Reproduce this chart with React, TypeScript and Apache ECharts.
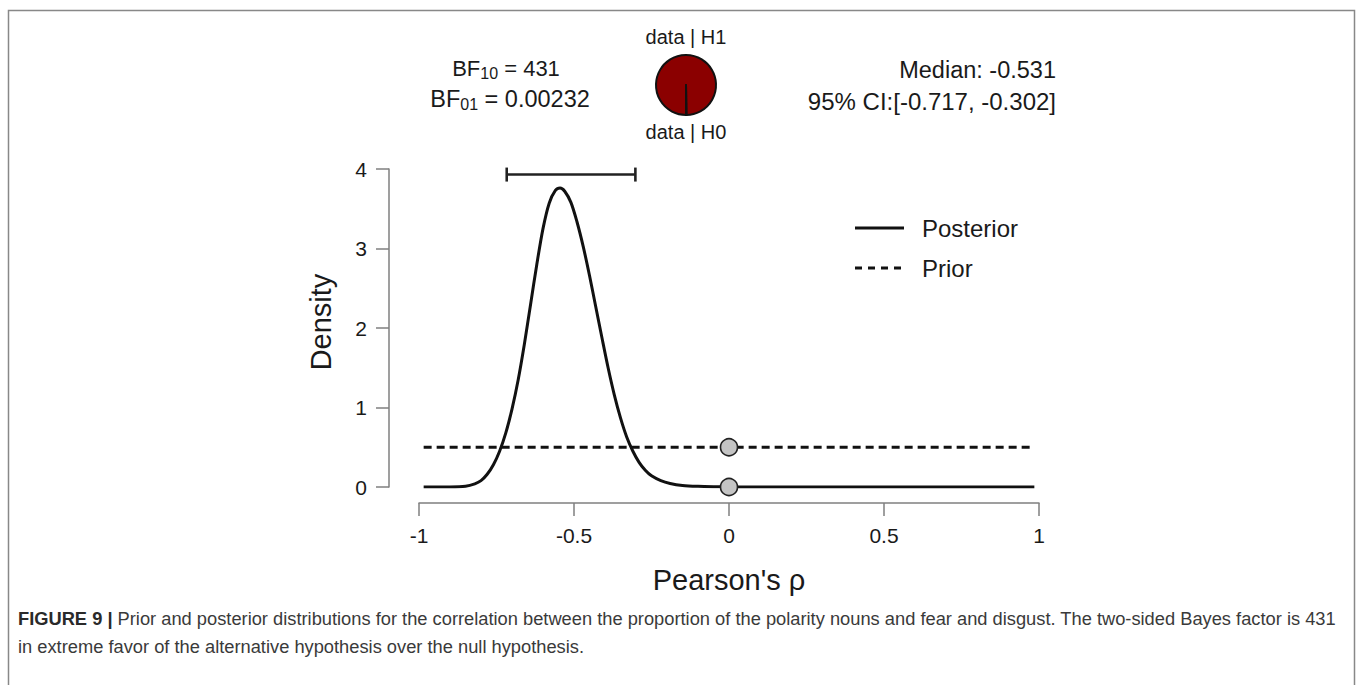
import { useEffect, useRef } from "react";
import * as echarts from "echarts";

// Posterior density
const rho = [
  -0.985, -0.9, -0.85, -0.82, -0.8, -0.78, -0.76, -0.74, -0.72, -0.7, -0.68, -0.66, -0.64, -0.62, -0.6,
  -0.58, -0.56, -0.545, -0.53, -0.51, -0.49, -0.47, -0.45, -0.43, -0.41, -0.39, -0.37, -0.35, -0.33,
  -0.31, -0.29, -0.27, -0.25, -0.22, -0.19, -0.15, -0.1, -0.05, 0, 0.2, 0.985,
];
const posteriorDensity = [
  0, 0.001, 0.01, 0.04, 0.08, 0.16, 0.28, 0.45, 0.68, 0.98, 1.35, 1.8, 2.3, 2.8, 3.25,
  3.57, 3.73, 3.76, 3.72, 3.58, 3.33, 3.02, 2.66, 2.27, 1.88, 1.5, 1.16, 0.87, 0.63,
  0.45, 0.31, 0.21, 0.14, 0.08, 0.045, 0.02, 0.008, 0.003, 0.001, 0, 0,
];
const priorRho = [-0.985, 0.985];
const priorDensity = [0.5, 0.5];

const ciLower = -0.717;
const ciUpper = -0.302;
const ciHeight = 3.93;
const pointsAtZero = [
  [0, 0.5],
  [0, 0],
];
const xTicks = [-1, 1, 0.5];
const yTicks = [0, 4, 1];

const BF10 = 431;
const BF01Text = "0.00232";
const medianText = "Median: -0.531";
const ciText = "95% CI:[-0.717, -0.302]";

const captionLine1 =
  " Prior and posterior distributions for the correlation between the proportion of the polarity nouns and fear and disgust. The two-sided Bayes factor is 431";
const captionLine2 = "in extreme favor of the alternative hypothesis over the null hypothesis.";

const FONT = "'Liberation Sans', Arial, Helvetica, sans-serif";
const TXT = "#1a1a1a";
const AXIS = "#7f7f7f";

export default function App() {
  const ref = useRef<HTMLDivElement>(null);
  useEffect(() => {
    const chart = echarts.init(ref.current!, null, { renderer: "svg" });
    chart.setOption({
      animation: false,
      backgroundColor: "#fff",
      textStyle: { fontFamily: FONT },
      grid: { left: 419, top: 169, width: 620, height: 318, containLabel: false },
      xAxis: {
        type: "value",
        min: xTicks[0],
        max: xTicks[1],
        interval: xTicks[2],
        offset: 16,
        splitLine: { show: false },
        axisLine: { show: true, onZero: false, lineStyle: { color: AXIS, width: 1.5 } },
        axisTick: { show: true, length: 13, lineStyle: { color: AXIS, width: 1.5 } },
        axisLabel: { color: TXT, fontSize: 21, margin: 22, fontFamily: FONT },
      },
      yAxis: {
        type: "value",
        min: yTicks[0],
        max: yTicks[1],
        interval: yTicks[2],
        offset: 30,
        splitLine: { show: false },
        axisLine: { show: true, onZero: false, lineStyle: { color: AXIS, width: 1.5 } },
        axisTick: { show: true, length: 13, lineStyle: { color: AXIS, width: 1.5 } },
        axisLabel: { color: TXT, fontSize: 21, margin: 22, fontFamily: FONT },
      },
      series: [
        {
          type: "line",
          name: "Prior",
          data: priorRho.map((x, i) => [x, priorDensity[i]]),
          showSymbol: false,
          lineStyle: { color: "#111", width: 2.8, type: [8, 5] },
          z: 2,
        },
        {
          type: "line",
          name: "Posterior",
          data: rho.map((x, i) => [x, posteriorDensity[i]]),
          showSymbol: false,
          smooth: 0.3,
          lineStyle: { color: "#111", width: 3 },
          z: 3,
        },
        {
          type: "custom",
          name: "CI",
          data: [[ciLower, ciUpper, ciHeight]],
          encode: { x: [0, 1], y: 2 },
          renderItem: (_params: any, api: any) => {
            const p1 = api.coord([api.value(0), api.value(2)]);
            const p2 = api.coord([api.value(1), api.value(2)]);
            const cap = 7;
            const st = { stroke: "#222", lineWidth: 2.6 };
            return {
              type: "group",
              children: [
                { type: "line", shape: { x1: p1[0], y1: p1[1], x2: p2[0], y2: p2[1] }, style: st },
                { type: "line", shape: { x1: p1[0], y1: p1[1] - cap, x2: p1[0], y2: p1[1] + cap }, style: st },
                { type: "line", shape: { x1: p2[0], y1: p2[1] - cap, x2: p2[0], y2: p2[1] + cap }, style: st },
              ],
            };
          },
          z: 4,
        },
        {
          type: "scatter",
          name: "Points",
          data: pointsAtZero,
          symbolSize: 17,
          itemStyle: { color: "#c4c4c4", borderColor: "#222", borderWidth: 1.6, opacity: 1 },
          z: 5,
        },
        {
          type: "pie",
          name: "BF pie",
          center: [686, 85],
          radius: 30,
          startAngle: -90,
          clockwise: true,
          minAngle: 0,
          label: { show: false },
          labelLine: { show: false },
          silent: true,
          itemStyle: { borderColor: "#111", borderWidth: 2 },
          data: [
            { name: "data | H1", value: BF10, itemStyle: { color: "#8b0000" } },
            { name: "data | H0", value: 1, itemStyle: { color: "#ffffff" } },
          ],
        },
      ],
      graphic: [
        // figure frame
        {
          type: "polyline",
          shape: { points: [[8.5, 685], [8.5, 10.5], [1354.5, 10.5], [1354.5, 685]] },
          style: { stroke: "#888", lineWidth: 1.5, fill: null },
        },
        // axis titles
        {
          type: "text",
          x: 321,
          y: 322,
          rotation: Math.PI / 2,
          style: { text: "Density", fontSize: 29, fontFamily: FONT, fill: TXT, align: "center", verticalAlign: "middle" },
        },
        {
          type: "text",
          x: 729,
          y: 580,
          style: { text: "Pearson's ρ", fontSize: 29, fontFamily: FONT, fill: TXT, align: "center", verticalAlign: "middle" },
        },
        // legend
        { type: "line", shape: { x1: 855, y1: 228, x2: 904, y2: 228 }, style: { stroke: "#111", lineWidth: 3 } },
        {
          type: "line",
          shape: { x1: 855, y1: 268, x2: 904, y2: 268 },
          style: { stroke: "#111", lineWidth: 2.8, lineDash: [7, 6] },
        },
        {
          type: "text",
          x: 922,
          y: 228,
          style: { text: "Posterior", fontSize: 24, fontFamily: FONT, fill: TXT, align: "left", verticalAlign: "middle" },
        },
        {
          type: "text",
          x: 922,
          y: 268,
          style: { text: "Prior", fontSize: 24, fontFamily: FONT, fill: TXT, align: "left", verticalAlign: "middle" },
        },
        // pie labels
        {
          type: "text",
          x: 686,
          y: 37,
          style: { text: "data | H1", fontSize: 20, fontFamily: FONT, fill: TXT, align: "center", verticalAlign: "middle" },
        },
        {
          type: "text",
          x: 686,
          y: 132,
          style: { text: "data | H0", fontSize: 20, fontFamily: FONT, fill: TXT, align: "center", verticalAlign: "middle" },
        },
        // Bayes factors
        {
          type: "text",
          x: 506,
          y: 68,
          style: {
            text: "{m|BF}{s|10}{m| = " + BF10 + "}",
            align: "center",
            verticalAlign: "middle",
            fill: TXT,
            rich: {
              m: { fontSize: 22, fontFamily: FONT, lineHeight: 26, verticalAlign: "middle", fill: TXT },
              s: { fontSize: 16, fontFamily: FONT, lineHeight: 15, verticalAlign: "bottom", fill: TXT },
            },
          },
        },
        {
          type: "text",
          x: 510,
          y: 99,
          style: {
            text: "{m|BF}{s|01}{m| = " + BF01Text + "}",
            align: "center",
            verticalAlign: "middle",
            fill: TXT,
            rich: {
              m: { fontSize: 23.5, fontFamily: FONT, lineHeight: 26, verticalAlign: "middle", fill: TXT },
              s: { fontSize: 16, fontFamily: FONT, lineHeight: 15, verticalAlign: "bottom", fill: TXT },
            },
          },
        },
        // median & CI
        {
          type: "text",
          x: 1056,
          y: 70,
          style: { text: medianText, fontSize: 23.5, fontFamily: FONT, fill: TXT, align: "right", verticalAlign: "middle" },
        },
        {
          type: "text",
          x: 1056,
          y: 101,
          style: { text: ciText, fontSize: 24, fontFamily: FONT, fill: TXT, align: "right", verticalAlign: "middle" },
        },
        // caption
        {
          type: "text",
          x: 18,
          y: 618,
          style: {
            text: "{b|FIGURE 9 |}{r|" + captionLine1 + "}",
            align: "left",
            verticalAlign: "middle",
            rich: {
              b: { fontSize: 18.3, fontWeight: "bold", fontFamily: FONT, fill: "#2a2a2a" },
              r: { fontSize: 18.3, fontFamily: FONT, fill: "#3a3a3a" },
            },
          },
        },
        {
          type: "text",
          x: 18,
          y: 646,
          style: { text: captionLine2, fontSize: 18.3, fontFamily: FONT, fill: "#3a3a3a", align: "left", verticalAlign: "middle" },
        },
      ],
    });
    return () => chart.dispose();
  }, []);
  return (
    <div
      ref={ref}
      style={{ position: "fixed", left: 0, top: 0, width: 1358, height: 685, background: "#fff" }}
    />
  );
}
